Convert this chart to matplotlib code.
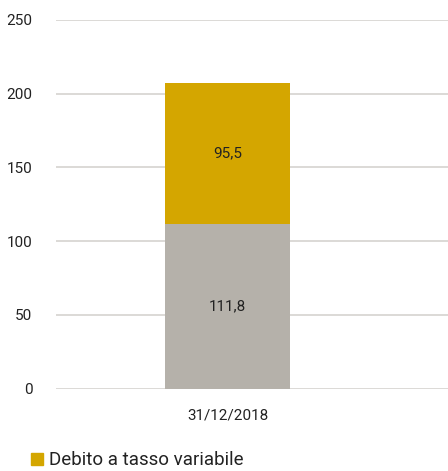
import matplotlib.pyplot as plt
from matplotlib.patches import Patch

plt.rcParams['font.family'] = ['Roboto', 'DejaVu Sans']

categorie = ['31/12/2018']
tasso_fisso = [111.8]
tasso_variabile = [95.5]
etichette_fisso = ['111,8']
etichette_variabile = ['95,5']

grigio = '#b5b1aa'
oro = '#d4a600'

fig = plt.figure(figsize=(4.48, 4.71), dpi=100)
ax = fig.add_axes([0.125, 0.175, 0.875, 0.7827])

x = range(len(categorie))
b1 = ax.bar(x, tasso_fisso, width=0.5, color=grigio, zorder=3)
b2 = ax.bar(x, tasso_variabile, width=0.5, bottom=tasso_fisso, color=oro, zorder=3)

ax.bar_label(b1, labels=etichette_fisso, label_type='center', fontsize=11, color='#222222')
ax.bar_label(b2, labels=etichette_variabile, label_type='center', fontsize=11, color='#222222')

ax.set_ylim(0, 250)
ax.set_yticks([0, 50, 100, 150, 200, 250])
ax.set_xlim(-0.686, 0.882)
ax.set_xticks(list(x))
ax.set_xticklabels(categorie)

ax.grid(axis='y', color='#d6d3cf', linewidth=1.2, zorder=0)
for s in ax.spines.values():
    s.set_visible(False)
ax.tick_params(axis='y', length=0, pad=17, labelsize=11, labelcolor='#222222')
ax.tick_params(axis='x', length=0, pad=14, labelsize=11, labelcolor='#222222')

ax.legend(handles=[Patch(color=oro, label='Debito a tasso variabile')],
          loc='lower left', bbox_to_anchor=(-0.107, -0.265), frameon=False,
          fontsize=13.5, handlelength=0.65, handleheight=0.65, handletextpad=0.3,
          labelcolor='#222222')

fig.savefig('out.png', dpi=100)
